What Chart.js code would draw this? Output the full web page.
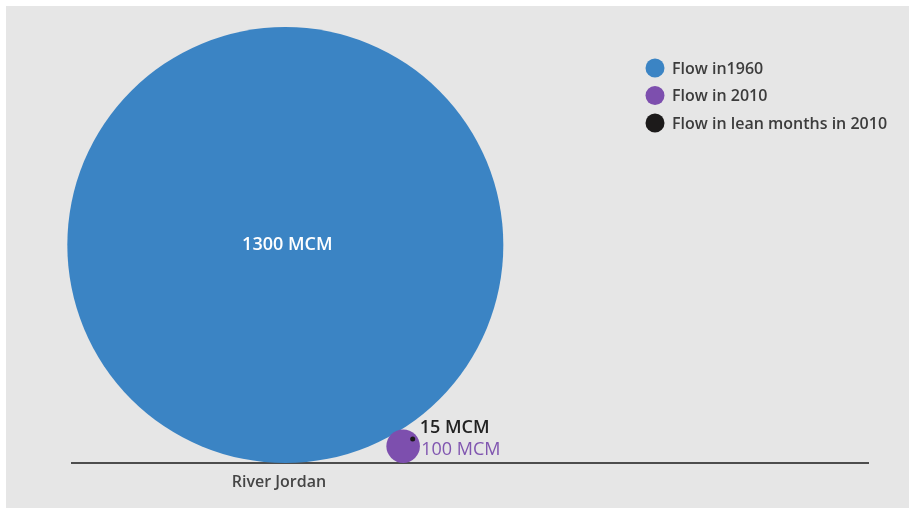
<!DOCTYPE html>
<html>
<head>
<meta charset="utf-8">
<script src="https://cdn.jsdelivr.net/npm/chart.js@4.4.1/dist/chart.umd.min.js"></script>
<style>
  html, body { margin: 0; padding: 0; background: #fff; }
  canvas { display: block; }
</style>
</head>
<body>
<canvas id="chart" width="909" height="508"></canvas>
<script>
const sites = ['River Jordan'];
const siteX = [26];
const flowLabels = ['Flow in1960', 'Flow in 2010', 'Flow in lean months in 2010'];
const flowValues = [1300, 100, 15];          // MCM
const bubbleX = [26.8, 41.6, 42.8];
const bubbleY = [49.2, 3.8, 5.4];
const flowColors = ['#3b84c4', '#7d4fae', '#1c1a1a'];
const valueColors = ['#ffffff', '#8056b0', '#222222'];

const PX_PER_MCM = 218 / 1300;   // bubble radius grows linearly with flow
const FONT = "'Open Sans', 'DejaVu Sans', sans-serif";

const ctx = document.getElementById('chart').getContext('2d');

// smaller flows sit on top of bigger ones
const datasets = flowValues.map((v, i) => ({
  label: flowLabels[i],
  data: [{ x: bubbleX[i], y: bubbleY[i], r: v * PX_PER_MCM, v: v }],
  backgroundColor: flowColors[i],
  borderWidth: 0,
  hoverRadius: 0,
  clip: false,
  order: flowValues.length - i
}));

// grey panel behind everything
const panel = {
  id: 'panel',
  beforeDraw(chart) {
    const c = chart.ctx;
    c.save();
    c.fillStyle = '#e6e6e6';
    c.fillRect(6, 6, chart.width - 6, chart.height - 6);
    c.restore();
  }
};

// "xxx MCM" text next to / inside each bubble
const valueText = {
  id: 'valueText',
  afterDatasetsDraw(chart) {
    const c = chart.ctx;
    const offsets = [[2, 0, 'center'], [18, 4, 'left'], [7, -11, 'left']];
    const weights = ['600', '500', '600'];
    c.save();
    c.textBaseline = 'middle';
    chart.data.datasets.forEach((ds, i) => {
      const pt = chart.getDatasetMeta(i).data[0];
      const [dx, dy, align] = offsets[i];
      c.textAlign = align;
      c.fillStyle = valueColors[i];
      c.font = `${weights[i]} 18px ${FONT}`;
      c.fillText(flowValues[i] + ' MCM', pt.x + dx, pt.y + dy);
    });
    c.restore();
  }
};

// legend in the upper right
const sideLegend = {
  id: 'sideLegend',
  afterDraw(chart) {
    const c = chart.ctx;
    c.save();
    c.textBaseline = 'middle';
    c.textAlign = 'left';
    c.font = `600 16px ${FONT}`;
    chart.data.datasets.forEach((ds, i) => {
      const y = 68 + i * 27.5;
      c.beginPath();
      c.arc(655, y, 9.5, 0, Math.PI * 2);
      c.fillStyle = ds.backgroundColor;
      c.fill();
      c.fillStyle = '#3c3c3c';
      c.fillText(ds.label, 672, y + 1);
    });
    c.restore();
  }
};

new Chart(ctx, {
  type: 'bubble',
  data: { datasets: datasets },
  options: {
    responsive: false,
    animation: false,
    events: [],
    layout: { autoPadding: false, padding: { left: 72, right: 41, top: 20, bottom: 0 } },
    plugins: {
      legend: { display: false },
      tooltip: { enabled: false }
    },
    scales: {
      x: {
        type: 'linear',
        min: 0,
        max: 100,
        grid: { display: false, drawTicks: false },
        border: { display: true, color: '#4d4d4d', width: 2 },
        afterBuildTicks(scale) {
          scale.ticks = siteX.map(v => ({ value: v }));
        },
        afterFit(scale) { scale.height = 45; },
        ticks: {
          padding: 10,
          color: '#454545',
          font: { family: FONT, size: 16, weight: '600' },
          callback: (val) => sites[siteX.indexOf(val)] || ''
        }
      },
      y: {
        display: false,
        min: 0,
        max: 100
      }
    }
  },
  plugins: [panel, valueText, sideLegend]
});
</script>
</body>
</html>
